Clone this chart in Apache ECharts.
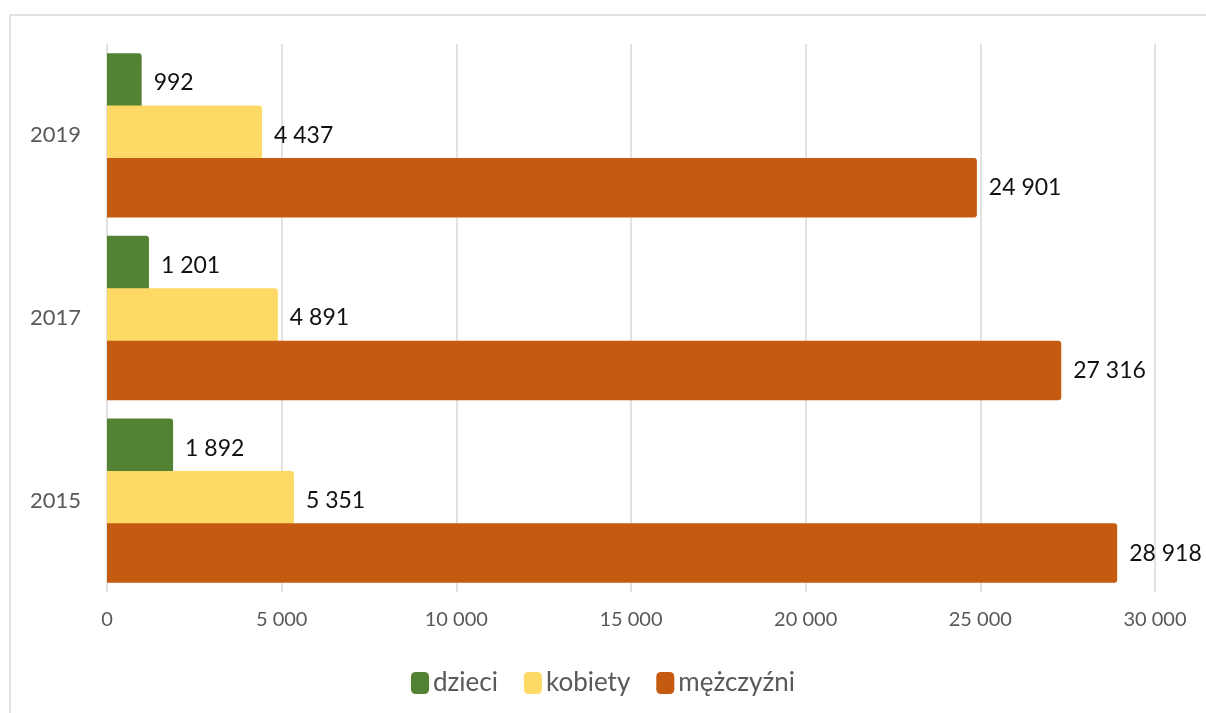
<!DOCTYPE html>
<html><head><meta charset="utf-8">
<script src="https://cdn.jsdelivr.net/npm/echarts@6/dist/echarts.min.js"></script>
<style>html,body{margin:0;padding:0;background:#fff}#c{width:1206px;height:713px}</style>
</head><body><div id="c"></div>
<script>
const categories = ['2015', '2017', '2019'];
const dzieci = [1892, 1201, 992];
const kobiety = [5351, 4891, 4437];
const mezczyzni = [28918, 27316, 24901];
const xTicks = [0, 5000, 10000, 15000, 20000, 25000, 30000];

const fmt = v => String(v).replace(/\B(?=(\d{3})+(?!\d))/g, ' ');
const font = 'Lato, "Open Sans", sans-serif';
const lbl = {show: true, position: 'right', distance: 12, color: '#111', fontSize: 23, fontFamily: font, formatter: p => fmt(p.value)};
const chart = echarts.init(document.getElementById('c'));
chart.setOption({
  animation: false,
  graphic: [{type: 'rect', shape: {x: 10, y: 15, width: 1220, height: 720}, style: {fill: 'none', stroke: '#d9d9d9', lineWidth: 1.5}, silent: true}],
  grid: {left: 107, right: 51, top: 44, height: 548, containLabel: false},
  legend: {
    data: ['dzieci', 'kobiety', 'mężczyźni'], top: 665, left: 'center',
    itemWidth: 18, itemHeight: 22, itemGap: 26, icon: 'roundRect',
    textStyle: {fontSize: 26, color: '#595959', fontFamily: font, padding: [0, 0, 0, -1]}
  },
  xAxis: {
    type: 'value', min: 0, max: 30000, interval: 5000,
    axisLine: {show: false}, axisTick: {show: false},
    splitLine: {show: true, lineStyle: {color: '#d9d9d9', width: 1.5}},
    axisLabel: {color: '#595959', fontSize: 20, fontFamily: font, margin: 18, formatter: v => fmt(v)}
  },
  yAxis: {
    type: 'category', data: categories,
    axisLine: {show: false}, axisTick: {show: false},
    axisLabel: {color: '#595959', fontSize: 22, fontFamily: font, margin: 26}
  },
  series: [
    {name: 'dzieci', type: 'bar', data: dzieci, barGap: '-12%', barCategoryGap: '10%', itemStyle: {color: '#548235', borderRadius: [0, 3, 3, 0]}, label: lbl},
    {name: 'kobiety', type: 'bar', data: kobiety, barGap: '-12%', barCategoryGap: '10%', itemStyle: {color: '#FFD966', borderRadius: [0, 3, 3, 0]}, label: lbl},
    {name: 'mężczyźni', type: 'bar', data: mezczyzni, barGap: '-12%', barCategoryGap: '10%', itemStyle: {color: '#C55A11', borderRadius: [0, 3, 3, 0]}, label: lbl}
  ]
});
</script></body></html>
